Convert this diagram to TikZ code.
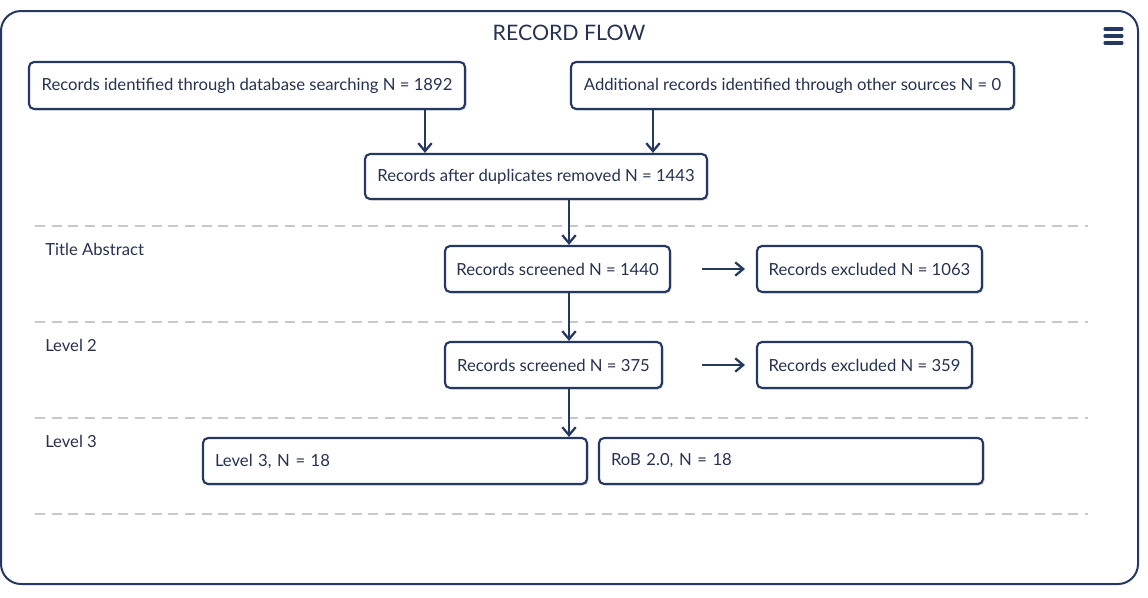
\documentclass[tikz,border=0pt]{standalone}
\usepackage{fontspec}
\setmainfont{Lato}
\usetikzlibrary{arrows.meta,shadows}
\definecolor{navy}{RGB}{36,56,98}
\definecolor{txt}{RGB}{38,50,80}
\definecolor{dashgray}{RGB}{200,200,200}
\begin{document}
\begin{tikzpicture}[x=0.75pt,y=-0.75pt,
  box/.style={draw=navy, line width=1.6pt, rounded corners=3.75pt, fill=white,
    drop shadow={shadow xshift=1.2pt, shadow yshift=-1.2pt, opacity=0.3},
    inner sep=0pt, font=\fontsize{12.5}{15}\selectfont, text=txt, anchor=center},
  lbox/.style={box, inner xsep=9pt, align=left, minimum height=34.5pt, text width=270pt},
  arr/.style={draw=navy, line width=1.7pt, -{Straight Barb[length=6pt,width=10pt,line width=1.7pt]}},
  sep/.style={draw=dashgray, line width=2pt, dash pattern=on 7.5pt off 5pt},
  lab/.style={anchor=west, font=\fontsize{12.5}{15}\selectfont, text=txt, inner sep=0pt}]
\useasboundingbox (0,0) rectangle (1148,597);
\draw[navy, line width=1.5pt, rounded corners=15pt] (1,11) rectangle (1138,584);
\node[font=\fontsize{16}{19}\selectfont, text=txt] (title) at (569,33) {RECORD FLOW};
% menu icon
\foreach \yy in {29,36,43} \draw[navy, line width=2.3pt, line cap=round] (1105,\yy) -- (1122,\yy);
% separators
\foreach \yy in {226,322,418,514} \draw[sep] (35,\yy) -- (1088,\yy);
% labels
\node[lab] (l1) at (45,249) {Title Abstract};
\node[lab] (l2) at (45,345) {Level 2};
\node[lab] (l3) at (45,441) {Level 3};
% boxes
\node[box, minimum width=327pt, minimum height=35.25pt] (b1) at (247,85.5) {Records identified through database searching N = 1892};
\node[box, minimum width=332.25pt, minimum height=35.25pt] (b2) at (792.5,85.5) {Additional records identified through other sources N = 0};
\node[box, minimum width=256.5pt, minimum height=33.75pt] (b3) at (536,176.5) {Records after duplicates removed N = 1443};
\node[box, minimum width=168.75pt, minimum height=34.5pt] (b4) at (557.5,269) {Records screened N = 1440};
\node[box, minimum width=168.75pt, minimum height=34.5pt] (b5) at (869.5,269) {Records excluded N = 1063};
\node[box, minimum width=162.75pt, minimum height=34.5pt] (b6) at (553.5,365) {Records screened N = 375};
\node[box, minimum width=161.25pt, minimum height=34.5pt] (b7) at (864.5,365) {Records excluded N = 359};
\node[lbox] (b8) at (395,461) {Level 3, N = 18};
\node[lbox] (b9) at (791,461) {RoB 2.0, N = 18};
% arrow coordinates
\coordinate (c1) at (425,0);
\coordinate (c2) at (653,0);
\coordinate (c3) at (569,0);
\coordinate (h1) at (702,0);
\coordinate (h2) at (745,0);
\draw[arr] (b1.south -| c1) -- (b3.north -| c1);
\draw[arr] (b2.south -| c2) -- (b3.north -| c2);
\draw[arr] (b3.south -| c3) -- (b4.north -| c3);
\draw[arr] (b4.south -| c3) -- (b6.north -| c3);
\draw[arr] (b6.south -| c3) -- (b8.north -| c3);
\draw[arr] (b4.east -| h1) -- (b5.west -| h2);
\draw[arr] (b6.east -| h1) -- (b7.west -| h2);
\end{tikzpicture}
\end{document}
